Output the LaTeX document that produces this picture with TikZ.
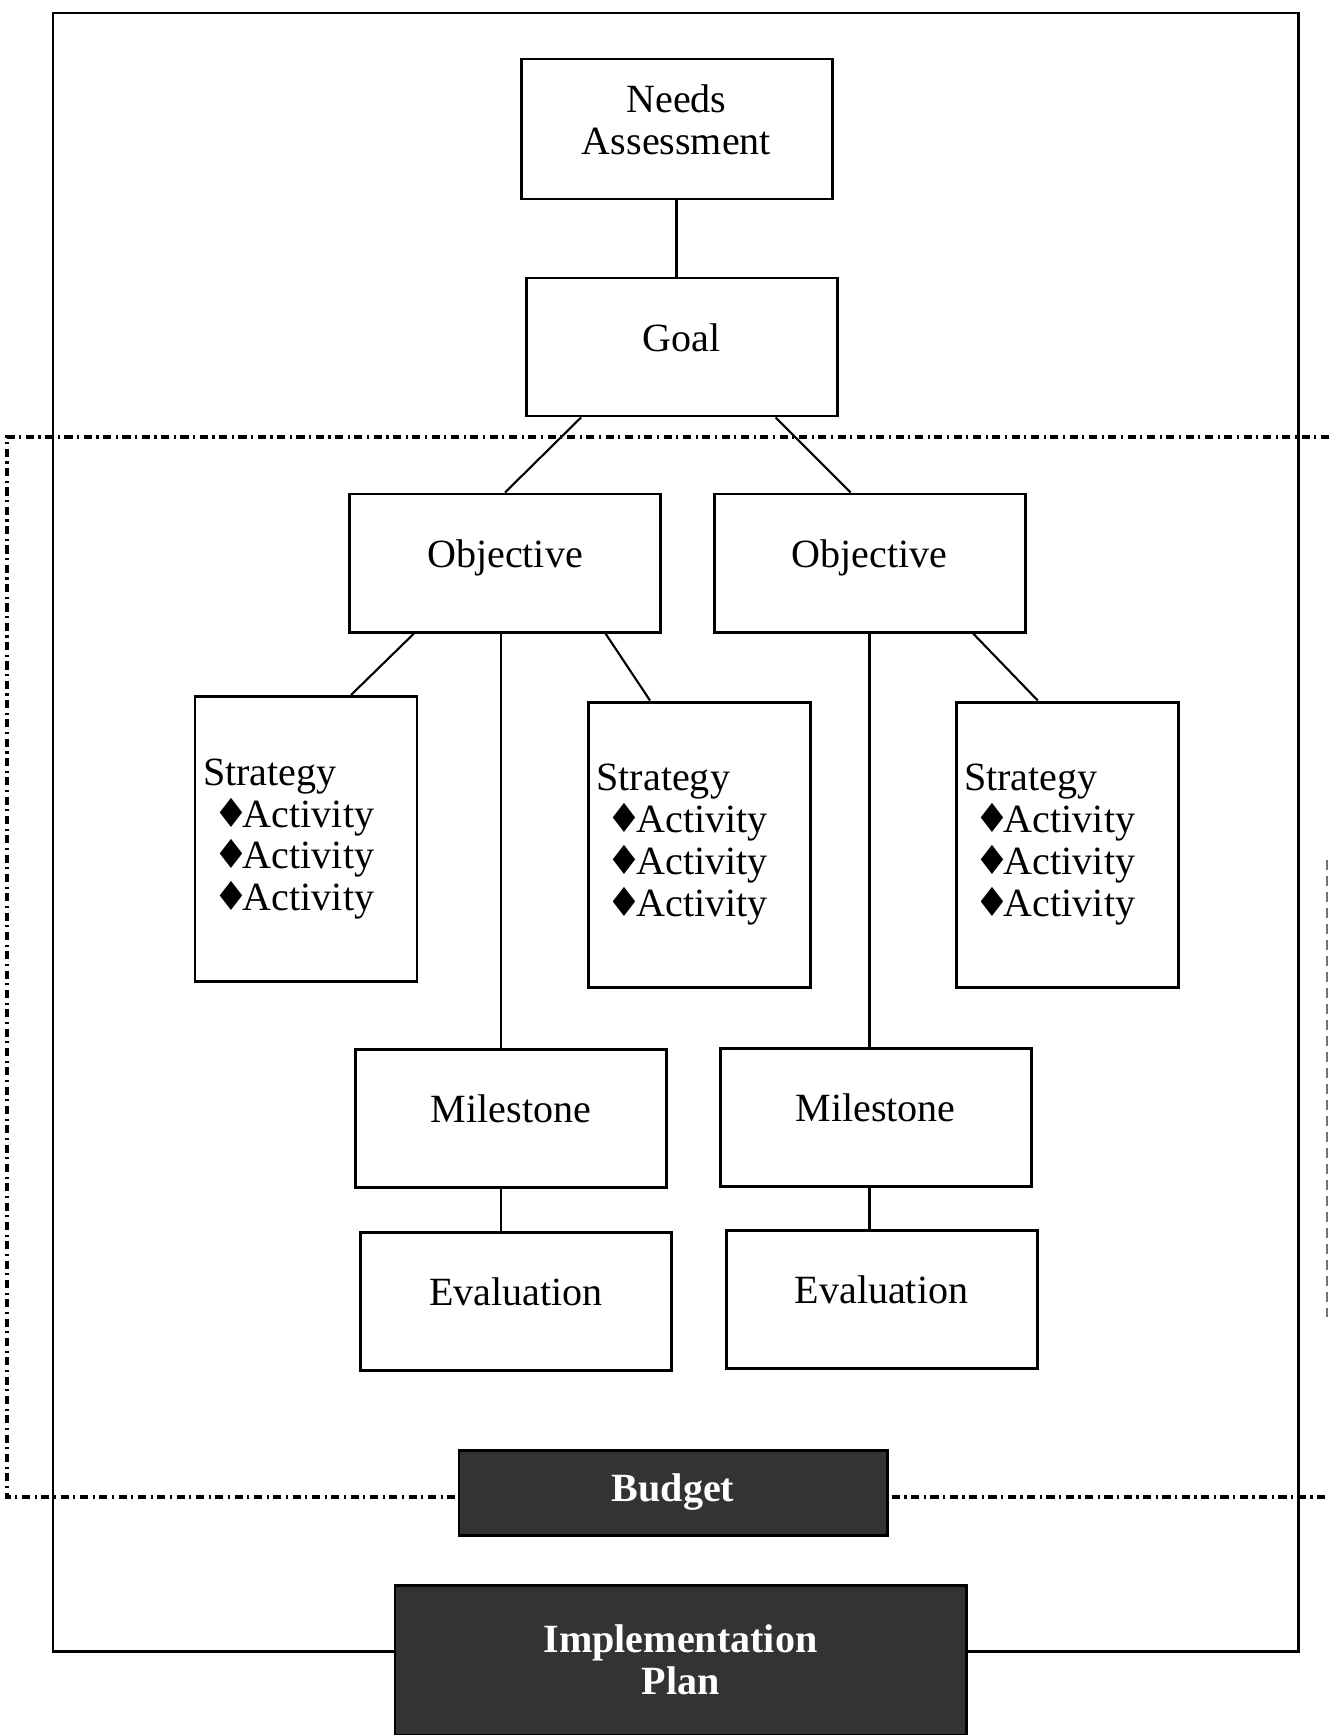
\documentclass[tikz,border=0pt]{standalone}
\usepackage{fontspec}
\setmainfont{Liberation Serif}
\newfontfamily\symfont{DejaVu Sans}
\usetikzlibrary{calc}

\newcommand{\act}{\hspace*{0.1cm}{\symfont ♦}\kern-0.06cm Activity}

\begin{document}
\begin{tikzpicture}[font=\fontsize{11.4pt}{11.9pt}\selectfont]
  \tikzset{BASE/.style={draw, line width=0.85pt, minimum width=3.11cm, minimum height=1.38cm} }
  \tikzset{BOX/.style={BASE, text height=0.27cm, text depth=0.19cm} }
  \tikzset{STR/.style={draw, line width=0.85pt, minimum width=2.22cm, minimum height=2.85cm, text width=2.06cm, inner xsep=0.08cm, align=left} }
  \tikzset{DARK/.style={draw, fill=black!80, text=white, font=\fontsize{11.4pt}{11.9pt}\selectfont\bfseries, line width=0.85pt} }
  \tikzset{LINE/.style={line width=0.6pt} }
  \tikzset{DASHDOT/.style={line width=0.9pt, dash pattern=on 2.3pt off 1.3pt on 0.6pt off 1.3pt} }

  \useasboundingbox (0,0) rectangle (13.29,-17.35);

  % frame and dash-dot area
  \draw[line width=0.85pt] (0.53,-0.13) rectangle (12.98,-16.51);
  \draw[DASHDOT] (13.29,-4.37) -- (0.07,-4.37) -- (0.07,-14.97) -- (13.29,-14.97);
  \draw[line width=0.4pt, black!55, dash pattern=on 0.1cm off 0.06cm] (13.27,-8.6) -- (13.27,-13.17);

  \node[BASE, minimum height=1.40cm, align=center] (needs) at (6.765,-1.29) {Needs\\Assessment\rule[-0.18cm]{0pt}{0pt}};
  \node[BOX] (goal) at (6.815,-3.47) {Goal};

  \node[BOX] (objL) at (5.05,-5.63) {Objective};
  \node[BOX] (objR) at (8.695,-5.63) {Objective};

  \node[STR] (strA) at (3.06,-8.39) {Strategy\\\act\\\act\\\act};
  \node[STR] (strB) at (6.995,-8.445) {Strategy\\\act\\\act\\\act};
  \node[STR] (strC) at (10.67,-8.445) {Strategy\\\act\\\act\\\act};

  \node[BOX] (msL) at (5.11,-11.18) {Milestone};
  \node[BOX] (msR) at (8.755,-11.17) {Milestone};
  \node[BOX] (evL) at (5.16,-13.01) {Evaluation};
  \node[BOX] (evR) at (8.815,-12.99) {Evaluation};

  \node[DARK, minimum width=4.28cm, minimum height=0.85cm] (budget) at (6.73,-14.925) {Budget};
  \node[DARK, minimum width=5.71cm, minimum height=1.5cm, align=center] (plan) at (6.805,-16.6) {Implementation\\Plan};

  % connectors
  \draw[LINE] (needs.south) -- (needs.south |- goal.north);
  \draw[LINE] ($(goal.south west)!.18!(goal.south east)$) -- (objL.north);
  \draw[LINE] ($(goal.south west)!.80!(goal.south east)$) -- ($(objR.north west)!.44!(objR.north east)$);
  \draw[LINE] ($(objL.south west)!.21!(objL.south east)$) -- ($(strA.north west)!.70!(strA.north east)$);
  \draw[LINE] ($(objL.south west)!.82!(objL.south east)$) -- ($(strB.north west)!.28!(strB.north east)$);
  \draw[LINE] ($(objR.south west)!.83!(objR.south east)$) -- ($(strC.north west)!.37!(strC.north east)$);
  \coordinate (xL) at ($(objL.south west)!.487!(objL.south east)$);
  \draw[LINE] (xL) -- (xL |- msL.north);
  \draw[LINE] (xL |- msL.south) -- (xL |- evL.north);
  \draw[LINE] (objR.south) -- (objR.south |- msR.north);
  \draw[LINE] (objR.south |- msR.south) -- (objR.south |- evR.north);
\end{tikzpicture}
\end{document}
